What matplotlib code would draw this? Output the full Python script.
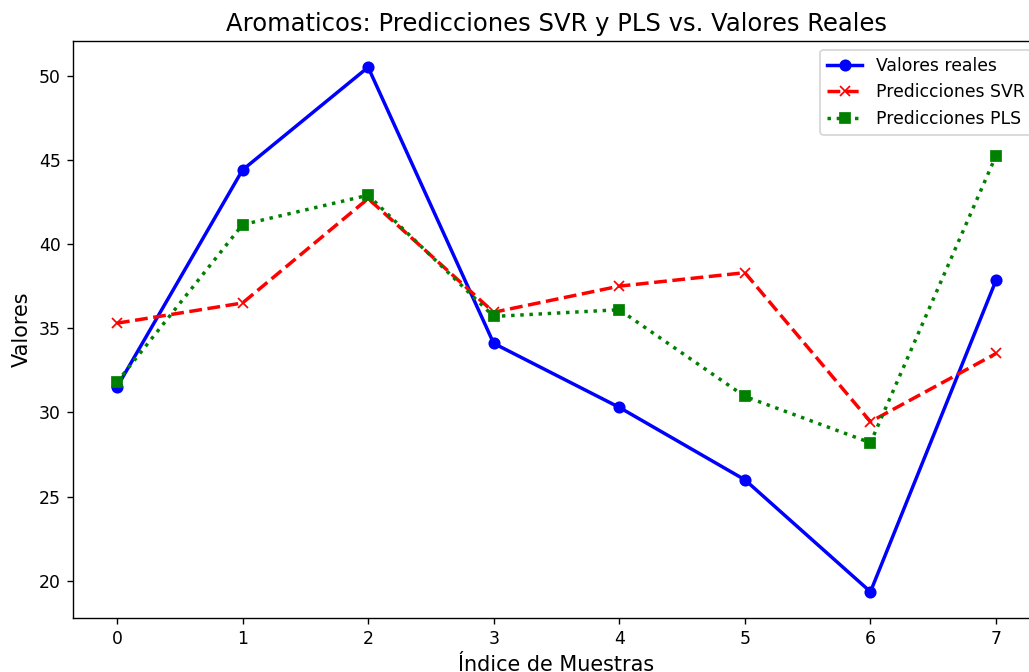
import matplotlib
matplotlib.use("Agg")
import matplotlib.pyplot as plt

indices = [0, 1, 2, 3, 4, 5, 6, 7]
valores_reales = [31.5, 44.4, 50.5, 34.1, 30.3, 26.0, 19.35, 37.85]
pred_svr = [35.3, 36.5, 42.7, 35.95, 37.5, 38.3, 29.45, 33.5]
pred_pls = [31.8, 41.15, 42.9, 35.7, 36.1, 30.95, 28.2, 45.25]

DPI = 124.5
W, H = 1029, 672
fig = plt.figure(figsize=(W / DPI, H / DPI), dpi=DPI)
ax = fig.add_axes([73 / W, 54 / H, 967 / W, 577 / H])

ax.plot(indices, valores_reales, color="blue", linestyle="-", marker="o",
        linewidth=2, label="Valores reales")
ax.plot(indices, pred_svr, color="red", linestyle="--", marker="x",
        linewidth=2, label="Predicciones SVR")
ax.plot(indices, pred_pls, color="green", linestyle=":", marker="s",
        linewidth=2, label="Predicciones PLS")

ax.set_title("Aromaticos: Predicciones SVR y PLS vs. Valores Reales", fontsize=14)
ax.set_xlabel("Índice de Muestras", fontsize=12)
ax.set_ylabel("Valores", fontsize=12)
ax.legend(loc="upper right")

fig.savefig("out.png", dpi=DPI)
